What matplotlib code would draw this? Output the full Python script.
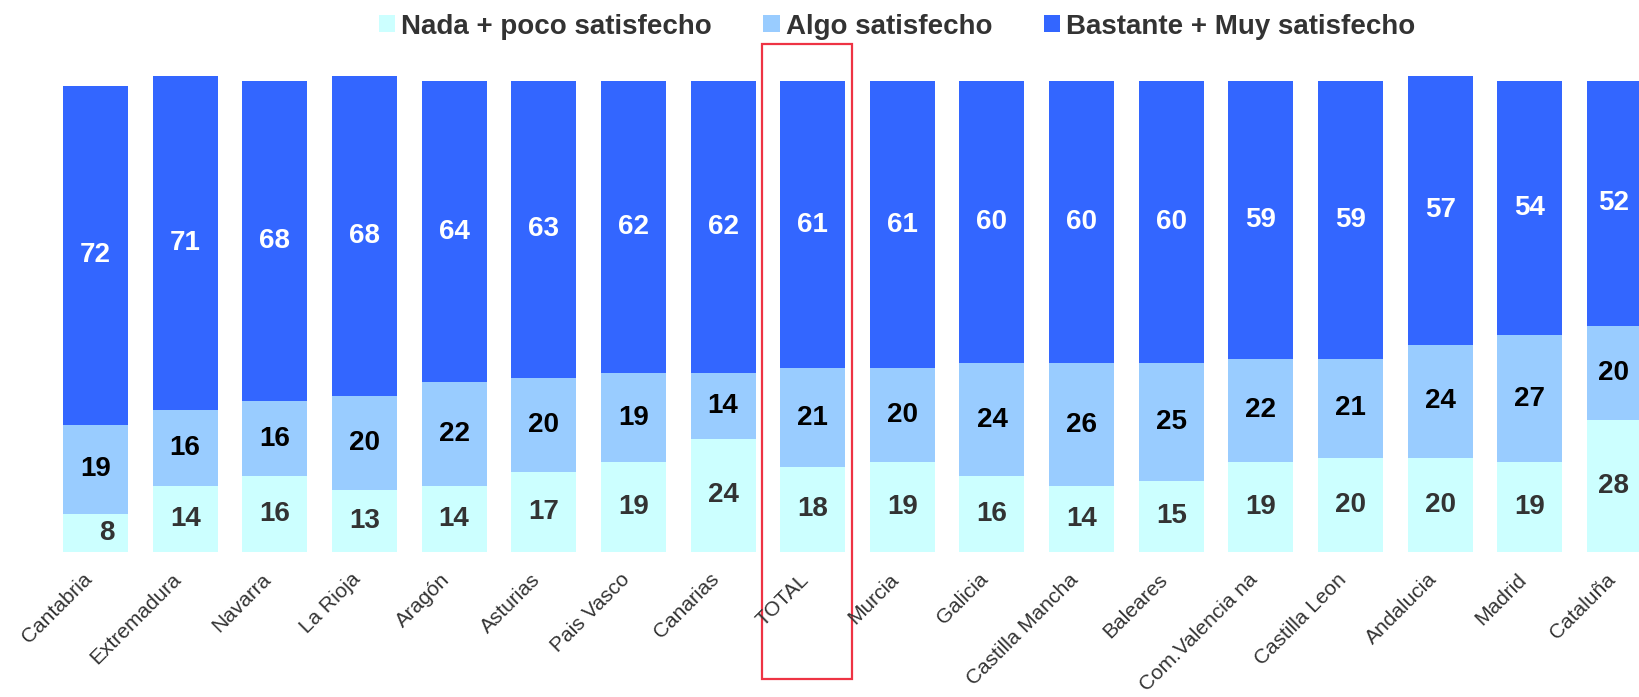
import matplotlib.pyplot as plt
from matplotlib.patches import Rectangle
import numpy as np

plt.rcParams['font.family'] = ['Liberation Sans', 'DejaVu Sans']

# Data (percentages)
regions = ['Cantabria', 'Extremadura', 'Navarra', 'La Rioja', 'Aragón', 'Asturias',
           'Pais Vasco', 'Canarias', 'TOTAL', 'Murcia', 'Galicia', 'Castilla Mancha',
           'Baleares', 'Com.Valencia na', 'Castilla Leon', 'Andalucia', 'Madrid', 'Cataluña']
nada = [8, 14, 16, 13, 14, 17, 19, 24, 18, 19, 16, 14, 15, 19, 20, 20, 19, 28]
algo = [19, 16, 16, 20, 22, 20, 19, 14, 21, 20, 24, 26, 25, 22, 21, 24, 27, 20]
bastante = [72, 71, 68, 68, 64, 63, 62, 62, 61, 61, 60, 60, 60, 59, 59, 57, 54, 52]

series_names = ['Nada + poco satisfecho', 'Algo satisfecho', 'Bastante + Muy satisfecho']
colors = ['#CCFFFF', '#99CCFF', '#3366FF']
label_colors = ['#333333', '#000000', '#FFFFFF']

fig = plt.figure(figsize=(16.4, 6.97), dpi=100)
ax = fig.add_axes([0, 0.2085, 1, 0.7915])

x = np.arange(len(regions))
bottom = np.zeros(len(regions))
handles = []
all_labels = []
for vals, name, col, lcol in zip([nada, algo, bastante], series_names, colors, label_colors):
    vals = np.array(vals)
    bars = ax.bar(x, vals, width=0.725, bottom=bottom, color=col, label=name, linewidth=0)
    handles.append(bars)
    txts = ax.bar_label(bars, labels=[str(v) for v in vals], label_type='center',
                        color=lcol, fontsize=20, fontweight='bold')
    all_labels.append(txts)
    bottom += vals

# the small "8" sits a bit right of centre in the original
all_labels[0][0].xyann = (8, 0)

ax.set_xlim(-1.065, 17.228)
ax.set_ylim(0, 117.2)
ax.set_xticks(x)
ax.set_xticklabels(regions, rotation=45, ha='right', fontsize=15, color='#333333')
ax.tick_params(axis='x', length=0, pad=13)
ax.set_yticks([])
for s in ax.spines.values():
    s.set_visible(False)

# highlight box around TOTAL
ax.add_patch(Rectangle((7.431, -27.04), 1.004, 134.9, fill=False,
                       edgecolor='#EE3344', linewidth=1.6, clip_on=False))

fig.legend(handles=handles, labels=series_names, loc='center', ncol=3,
           bbox_to_anchor=(897 / 1640, 1 - 26.5 / 697), frameon=False,
           prop={'size': 20, 'weight': 'bold'}, labelcolor='#333333',
           handlelength=0.58, handleheight=0.58, handletextpad=0.22,
           columnspacing=1.85, borderpad=0, borderaxespad=0)

fig.savefig('out.png', dpi=100)
